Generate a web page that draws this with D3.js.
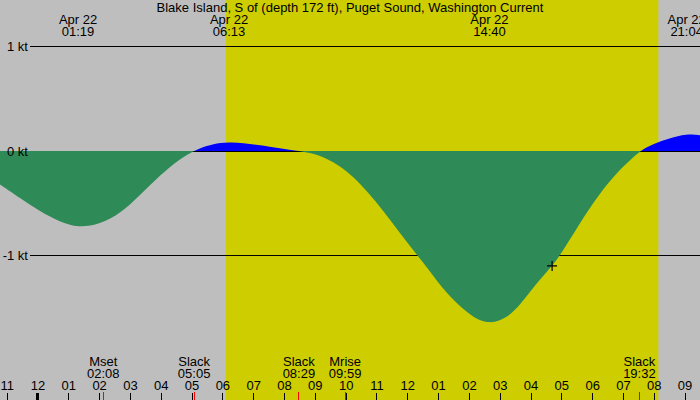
<!DOCTYPE html>
<html>
<head>
<meta charset="utf-8">
<script src="https://cdn.jsdelivr.net/npm/d3@7"></script>
<style>
  body { margin: 0; background: #bebebe; }
  svg { display: block; font-family: "Liberation Sans", Arial, sans-serif; }
  text { font-size: 13px; fill: #000; }
</style>
</head>
<body>
<div id="container"></div>
<script>
// chart data
var title = "Blake Island, S of (depth 172 ft), Puget Sound, Washington Current";
var day = "2025-04-22";
var viewStart = "2025-04-21 22:47", viewEnd = "2025-04-22 21:30";
var sunrise = "06:07", sunset = "20:09";

// current speed (kt), + is flood, - is ebb
var curveTimes = ["2025-04-21 22:47", "2025-04-21 23:26",
  "00:05", "00:44", "01:19", "02:02", "02:41", "03:20", "03:59", "04:38", "05:05",
  "05:16", "05:42", "06:13", "07:13", "07:52", "08:29",
  "09:00", "09:30", "10:00", "10:30", "11:00", "11:30", "12:00", "12:30", "13:00",
  "13:30", "14:00", "14:20", "14:40", "15:00", "15:20", "15:40", "16:00", "16:20",
  "16:42", "17:00", "17:30", "18:00", "18:30", "19:00", "19:32",
  "20:00", "20:30", "21:04", "21:30"];
var curveKt = [-0.32, -0.45,
  -0.58, -0.68, -0.735, -0.70, -0.60, -0.42, -0.23, -0.07, 0,
  0.026, 0.067, 0.09, 0.057, 0.026, 0,
  -0.025, -0.09, -0.18, -0.32, -0.49, -0.68, -0.88, -1.06, -1.26,
  -1.43, -1.56, -1.62, -1.645, -1.625, -1.57, -1.47, -1.34, -1.22,
  -1.10, -0.98, -0.74, -0.51, -0.31, -0.15, 0,
  0.07, 0.12, 0.165, 0.15];

var ktLevels = [1, 0, -1];
var ktLabels = ["1 kt", "0 kt", "-1 kt"];

var peakTimes = ["01:19", "06:13", "14:40", "21:04"];
var peakDate = "Apr 22";

var eventNames = ["Mset", "Slack", "Slack", "Mrise", "Slack"];
var eventTimes = ["02:08", "05:05", "08:29", "09:59", "19:32"];

var nowTime = "16:42", nowKt = -1.10;

var W = 700, H = 400;
var parseFull = d3.timeParse("%Y-%m-%d %H:%M");
function toDate(s) { return s.length > 5 ? parseFull(s) : parseFull(day + " " + s); }

var svg = d3.select("#container").append("svg").attr("width", W).attr("height", H);

var x = d3.scaleTime().domain([toDate(viewStart), toDate(viewEnd)]).range([0, W]);
var y = d3.scaleLinear().domain([-1, 1]).range([255.5, 46.5]);
var base = Math.floor(y(0));
function crisp(v) { return Math.round(v - 0.5) + 0.5; }

// night / day background
svg.append("rect").attr("width", W).attr("height", H).attr("fill", "#bebebe");
svg.append("rect")
    .attr("x", x(toDate(sunrise))).attr("y", 0)
    .attr("width", x(toDate(sunset)) - x(toDate(sunrise))).attr("height", H)
    .attr("fill", "#cdcd00");

// kt lines (under the fill)
svg.selectAll("line.lvl").data(ktLevels).enter().append("line")
    .attr("class", "lvl")
    .attr("x1", 30).attr("x2", W)
    .attr("y1", function(d) { return crisp(y(d)); })
    .attr("y2", function(d) { return crisp(y(d)); })
    .attr("stroke", "#000").attr("shape-rendering", "crispEdges");

// current curve, split into flood (blue) and ebb (green)
var pts = curveTimes.map(function(t, i) { return { t: toDate(t), v: curveKt[i] }; });
var area = d3.area()
    .x(function(d) { return x(d.t); })
    .y0(base)
    .y1(function(d) { return y(d.v); })
    .curve(d3.curveBasis);

var defs = svg.append("defs");
defs.append("clipPath").attr("id", "above").append("rect")
    .attr("x", 0).attr("y", 0).attr("width", W).attr("height", base);
defs.append("clipPath").attr("id", "below").append("rect")
    .attr("x", 0).attr("y", base).attr("width", W).attr("height", H - base);

svg.append("path").datum(pts).attr("d", area)
    .attr("fill", "#2e8b57").attr("clip-path", "url(#below)");
svg.append("path").datum(pts).attr("d", area)
    .attr("fill", "#0000ff").attr("clip-path", "url(#above)");

// kt labels sit on top of the fill
svg.selectAll("text.lvl").data(ktLevels).enter().append("text")
    .attr("class", "lvl")
    .attr("x", 28).attr("y", function(d) { return crisp(y(d)) + 4.5; })
    .attr("text-anchor", "end")
    .text(function(d, i) { return ktLabels[i]; });

// current time marker
svg.append("path")
    .attr("transform", "translate(" + x(toDate(nowTime)) + "," + y(nowKt) + ")")
    .attr("d", "M-5,0H5M0,-5V5")
    .attr("stroke", "#000").attr("stroke-width", 1.2);

// title and max current labels
svg.append("text").attr("x", W / 2).attr("y", 12)
    .attr("text-anchor", "middle").text(title);
var peaks = svg.selectAll("g.peak").data(peakTimes).enter().append("g")
    .attr("class", "peak")
    .attr("transform", function(d) { return "translate(" + x(toDate(d)) + ",0)"; });
peaks.append("text").attr("y", 24).attr("text-anchor", "middle").text(peakDate);
peaks.append("text").attr("y", 36).attr("text-anchor", "middle").text(function(d) { return d; });

// hour axis along the bottom
var axis = d3.axisTop(x)
    .ticks(d3.timeHour.every(1))
    .tickFormat(d3.timeFormat("%I"))
    .tickSize(7).tickPadding(3);
var gx = svg.append("g").attr("transform", "translate(0," + H + ")").call(axis);
gx.select(".domain").remove();
gx.selectAll("text").attr("font-size", 13).attr("font-family", "Liberation Sans, Arial, sans-serif");
gx.selectAll(".tick line").attr("shape-rendering", "crispEdges")
    .attr("stroke-width", function(d) { return d.getHours() == 0 ? 3 : 1; });

// slack / moon events
var ev = svg.selectAll("g.ev").data(eventTimes).enter().append("g")
    .attr("class", "ev")
    .attr("transform", function(d) { return "translate(" + x(toDate(d)) + ",0)"; });
ev.append("text").attr("y", 366).attr("text-anchor", "middle")
    .text(function(d, i) { return eventNames[i]; });
ev.append("text").attr("y", 378).attr("text-anchor", "middle").text(function(d) { return d; });
ev.append("line").attr("y1", 392).attr("y2", H)
    .attr("stroke", "#ff0000").attr("shape-rendering", "crispEdges");
</script>
</body>
</html>
